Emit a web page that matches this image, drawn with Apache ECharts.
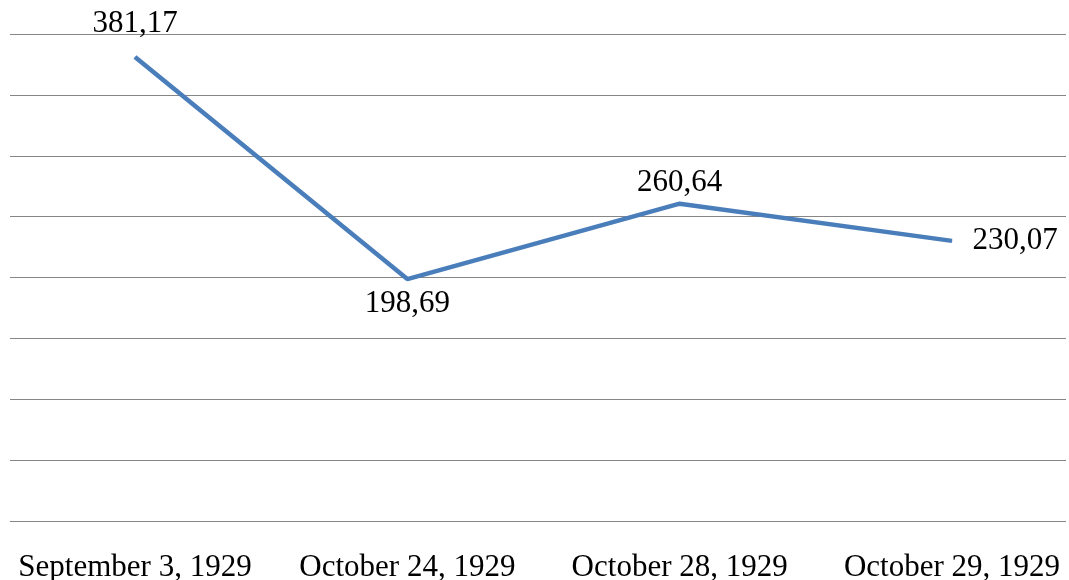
<!DOCTYPE html>
<html>
<head>
<meta charset="utf-8">
<script src="https://cdn.jsdelivr.net/npm/echarts@6/dist/echarts.min.js"></script>
<style>
  html, body { margin: 0; padding: 0; background: #fff; }
  #main { width: 1069px; height: 580px; }
</style>
</head>
<body>
<div id="main"></div>
<script>
var dates = ['September 3, 1929', 'October 24, 1929', 'October 28, 1929', 'October 29, 1929'];
var closes = [381.17, 198.69, 260.64, 230.07];
var labelPos = ['top', 'bottom', 'top', 'right'];
var labelDist = [17, 9, 5, 20];

var myChart = echarts.init(document.getElementById('main'));

var font = 'Liberation Serif, Times New Roman, serif';

var points = closes.map(function (v, i) {
	return {
		value: v,
		label: { position: labelPos[i], distance: labelDist[i] }
	};
});

var option = {
	animation: false,
	grid: [
		{ left: 135, right: 117, top: 34, bottom: 59, outerBoundsMode: 'none' },
		{ left: 10, right: 3, top: 34, bottom: 59, outerBoundsMode: 'none' }
	],
	xAxis: [
		{
			type: 'category',
			gridIndex: 0,
			boundaryGap: false,
			data: dates,
			axisLine: { show: false },
			axisTick: { show: false },
			splitLine: { show: false },
			axisLabel: {
				color: '#000',
				fontSize: 31,
				fontFamily: font,
				margin: 31,
				interval: 0
			}
		},
		{
			type: 'value',
			gridIndex: 1,
			show: false
		}
	],
	yAxis: [
		{
			type: 'value',
			gridIndex: 0,
			min: 0,
			max: 400,
			interval: 50,
			show: false
		},
		{
			type: 'value',
			gridIndex: 1,
			min: 0,
			max: 400,
			interval: 50,
			axisLine: { show: false },
			axisTick: { show: false },
			axisLabel: { show: false },
			splitLine: { lineStyle: { color: '#868686', width: 1.2 } }
		}
	],
	series: [{
		type: 'line',
		xAxisIndex: 0,
		yAxisIndex: 0,
		data: points,
		symbol: 'circle',
		symbolSize: 1,
		showSymbol: true,
		itemStyle: { color: '#4a7ebb' },
		lineStyle: { color: '#4a7ebb', width: 4.5 },
		label: {
			show: true,
			color: '#000',
			fontSize: 31,
			fontFamily: font,
			formatter: function (p) {
				return p.value.toFixed(2).replace('.', ',');
			}
		}
	}]
};

myChart.setOption(option);
</script>
</body>
</html>
